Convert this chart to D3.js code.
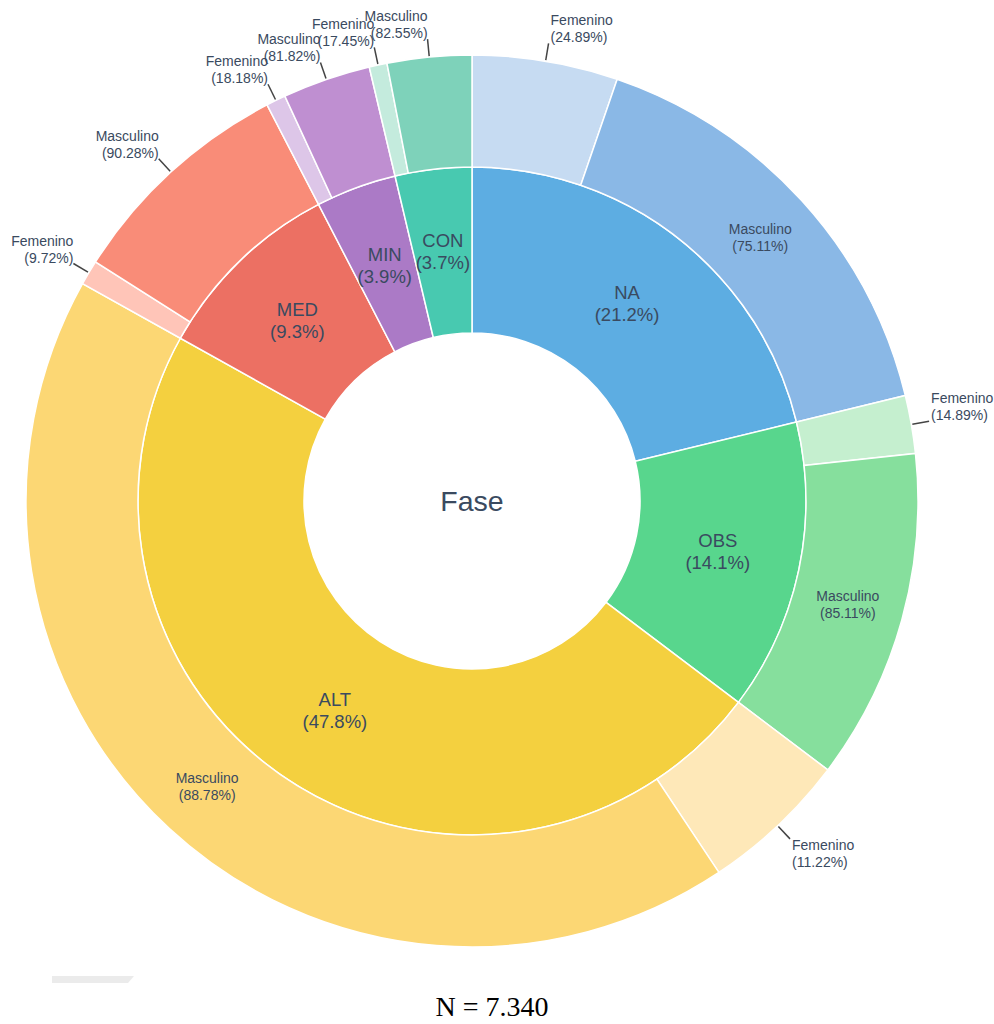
<!DOCTYPE html>
<html>
<head>
<meta charset="utf-8">
<script src="https://cdn.jsdelivr.net/npm/d3@7"></script>
<style>
  body { margin: 0; background: #fff; }
  text { font-family: "Liberation Sans", Arial, sans-serif; }
</style>
</head>
<body>
<div id="chart"></div>
<script>
// data
const fases = ["NA", "OBS", "ALT", "MED", "MIN", "CON"];
const fasePct = [21.2, 14.1, 47.8, 9.3, 3.9, 3.7];
const generos = ["Femenino", "Masculino"];
const femeninoPct = [24.89, 14.89, 11.22, 9.72, 18.18, 17.45];
const masculinoPct = [75.11, 85.11, 88.78, 90.28, 81.82, 82.55];
const totalN = "7.340";

// colours
const faseColor = ["#5DADE2", "#58D68D", "#F4D03F", "#EC7063", "#AB7AC6", "#48C9B0"];
const mascColor = ["#8AB8E6", "#86DF9D", "#FCD774", "#F98C78", "#BF8FD1", "#7ED2BA"];
const femColor  = ["#C6DBF2", "#C5EFCF", "#FEE8B8", "#FFC5B8", "#DDC6E8", "#C4EBDD"];

const W = 994, H = 1024;
const cx = 472, cy = 501;
const rHole = 168, rMid = 334, rOuter = 446;
const textColor = "#3a4a60";

const svg = d3.select("#chart").append("svg")
    .attr("width", W)
    .attr("height", H);

const g = svg.append("g").attr("transform", `translate(${cx},${cy})`);

// inner ring
const innerData = fases.map((f, i) => ({ fase: f, value: fasePct[i], i: i }));
const pie = d3.pie().sort(null).value(d => d.value);
const innerArcs = pie(innerData);

// outer ring: split each phase by gender share
const outerData = [];
fases.forEach((f, i) => {
    outerData.push({ fase: f, genero: generos[0], pct: femeninoPct[i], value: fasePct[i] * femeninoPct[i], color: femColor[i] });
    outerData.push({ fase: f, genero: generos[1], pct: masculinoPct[i], value: fasePct[i] * masculinoPct[i], color: mascColor[i] });
});
const outerArcs = pie(outerData);

const arcInner = d3.arc().innerRadius(rHole).outerRadius(rMid);
const arcOuter = d3.arc().innerRadius(rMid).outerRadius(rOuter);

g.selectAll("path.inner")
    .data(innerArcs)
    .join("path")
    .attr("class", "inner")
    .attr("d", arcInner)
    .attr("fill", d => faseColor[d.data.i])
    .attr("stroke", "#fff")
    .attr("stroke-width", 1.5);

g.selectAll("path.outer")
    .data(outerArcs)
    .join("path")
    .attr("class", "outer")
    .attr("d", arcOuter)
    .attr("fill", d => d.data.color)
    .attr("stroke", "#fff")
    .attr("stroke-width", 1.5);

// inner labels
const innerLbl = g.selectAll("text.inner")
    .data(innerArcs)
    .join("text")
    .attr("class", "inner")
    .attr("text-anchor", "middle")
    .attr("font-size", 18.5)
    .attr("fill", textColor)
    .attr("transform", d => {
        const [x, y] = arcInner.centroid(d);
        return `translate(${x},${y})`;
    });
innerLbl.append("tspan").attr("x", 0).attr("y", -5).text(d => d.data.fase);
innerLbl.append("tspan").attr("x", 0).attr("y", 17).text(d => `(${d.data.value}%)`);

// outer labels
const fmt = d3.format(".2f");
outerArcs.forEach(d => {
    const a = (d.startAngle + d.endAngle) / 2;
    const s = Math.sin(a), c = -Math.cos(a);
    const label = [d.data.genero, `(${fmt(d.data.pct)}%)`];
    if (d.endAngle - d.startAngle > 0.6) {
        const [x, y] = arcOuter.centroid(d);
        const t = g.append("text")
            .attr("text-anchor", "middle")
            .attr("font-size", 14)
            .attr("fill", textColor)
            .attr("transform", `translate(${x},${y})`);
        t.append("tspan").attr("x", 0).attr("y", -4).text(label[0]);
        t.append("tspan").attr("x", 0).attr("y", 13).text(label[1]);
    } else {
        const r0 = rOuter + 1, r1 = rOuter + 18;
        const x0 = r0 * s, y0 = r0 * c, x1 = r1 * s, y1 = r1 * c;
        g.append("line")
            .attr("x1", x0).attr("y1", y0)
            .attr("x2", x1).attr("y2", y1)
            .attr("stroke", "#444")
            .attr("stroke-width", 1.5);
        const right = s > 0;
        const upper = c < 0;
        const tx = right ? x1 + 2 : x1;
        const by = upper ? y1 - 18 : y1 + 11;
        const t = g.append("text")
            .attr("text-anchor", right ? "start" : "end")
            .attr("font-size", 14)
            .attr("fill", textColor);
        t.append("tspan").attr("x", tx).attr("y", by).text(label[0]);
        t.append("tspan").attr("x", tx).attr("y", by + 17).text(label[1]);
    }
});

// centre title
g.append("text")
    .attr("text-anchor", "middle")
    .attr("dy", "0.35em")
    .attr("font-size", 28.5)
    .attr("fill", textColor)
    .text("Fase");

// faint leftover shape bottom-left
svg.append("path")
    .attr("d", "M52,976 L134,976 L128,983 L52,983 Z")
    .attr("fill", "#ebebeb");

// N footnote
svg.append("text")
    .attr("x", 492)
    .attr("y", 1016)
    .attr("text-anchor", "middle")
    .attr("font-size", 28)
    .attr("fill", "#000")
    .style("font-family", "'Liberation Serif', 'DejaVu Serif', serif")
    .text(`N = ${totalN}`);
</script>
</body>
</html>
